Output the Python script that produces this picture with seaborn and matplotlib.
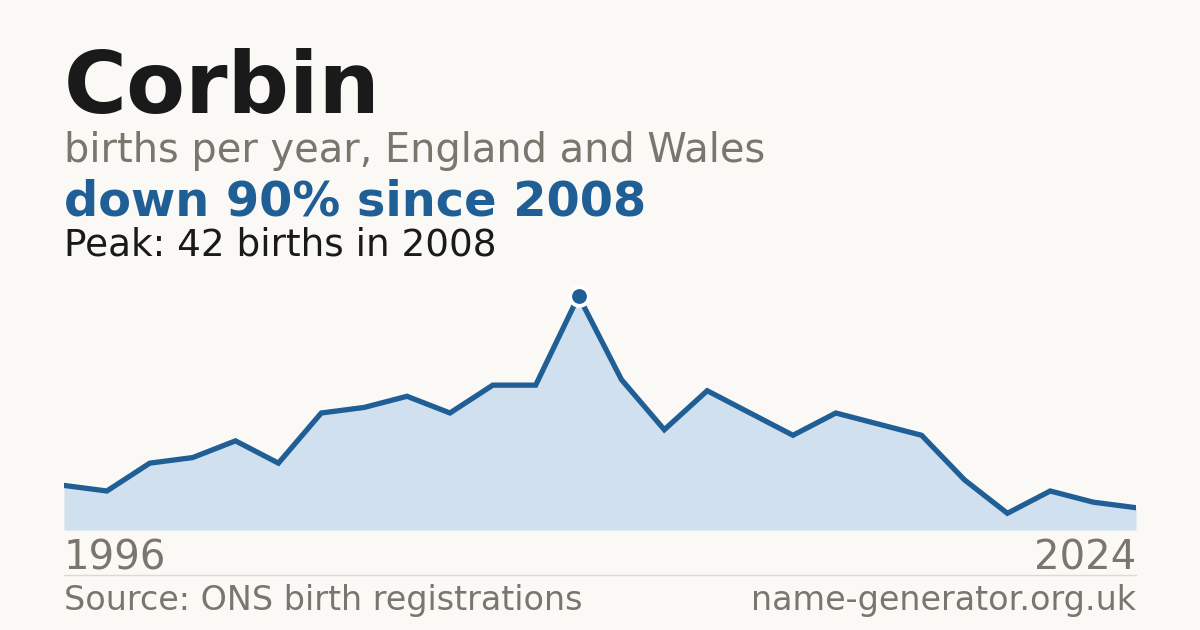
import matplotlib
matplotlib.use("Agg")
import matplotlib.pyplot as plt
import seaborn as sns
import pandas as pd
import numpy as np

# ---- data ----
name = "Corbin"
first_year = "1996"
last_year = "2024"
peak_year = "2008"
births = [8, 7, 12, 13, 16, 12, 21, 22, 24, 21, 26, 26, 42,
          27, 18, 25, 21, 17, 21, 19, 17, 9, 3, 7, 5, 4]
peak_index = 12

BG = "#faf9f5"
LINE = "#1f5f96"
FILL = "#d0e0ef"
GRAY = "#7a756d"
DARK = "#1a1a1a"

sns.set_theme(style="white")
plt.rcParams["font.family"] = ["DejaVu Sans"]

df = pd.DataFrame({"idx": np.arange(len(births)), "births": births})

fig = plt.figure(figsize=(12, 6.3), dpi=100, facecolor=BG)
# axes: x 64..1136 px, y 280..530 px (from top)
ax = fig.add_axes([64 / 1200, (630 - 530) / 630, (1136 - 64) / 1200, 250 / 630])
ax.set_facecolor(BG)

ax.fill_between(df["idx"], df["births"], 0, color=FILL, linewidth=0, zorder=1)
sns.lineplot(data=df, x="idx", y="births", ax=ax, color=LINE, linewidth=3.8,
             solid_joinstyle="miter", zorder=2)
ax.plot([peak_index], [births[peak_index]], marker="o", markersize=13.5,
        color=LINE, markeredgecolor="white", markeredgewidth=2.8, zorder=3,
        clip_on=False)

ax.set_xlim(0, len(births) - 1)
ax.set_ylim(0, max(births) * 250 / 234)
ax.set_xlabel("")
ax.set_ylabel("")
ax.set_xticks([])
ax.set_yticks([])
for s in ax.spines.values():
    s.set_visible(False)

def fy(px):
    return 1 - px / 630

fig.text(64 / 1200, fy(113), name, fontsize=61.8, fontweight="bold", color=DARK,
         va="baseline", ha="left")
fig.text(64 / 1200, fy(162), "births per year, England and Wales", fontsize=28.7,
         color=GRAY, va="baseline", ha="left")
fig.text(64 / 1200, fy(216), f"down 90% since {peak_year}", fontsize=34.5,
         fontweight="bold", color=LINE, va="baseline", ha="left")
fig.text(64 / 1200, fy(256), f"Peak: {births[peak_index]} births in {peak_year}",
         fontsize=26.9, color=DARK, va="baseline", ha="left")

fig.text(64 / 1200, fy(570), first_year, fontsize=28.9, color=GRAY,
         va="baseline", ha="left")
fig.text(1136 / 1200, fy(570), last_year, fontsize=28.9, color=GRAY,
         va="baseline", ha="right")

fig.add_artist(plt.Line2D([64 / 1200, 1136 / 1200], [fy(574.5), fy(574.5)],
                          color="#dddad3", linewidth=1, transform=fig.transFigure))

fig.text(64 / 1200, fy(610), "Source: ONS birth registrations", fontsize=24,
         color=GRAY, va="baseline", ha="left")
fig.text(1136 / 1200, fy(610), "name-generator.org.uk", fontsize=24,
         color=GRAY, va="baseline", ha="right")

fig.savefig("out.png", dpi=100, facecolor=BG)
